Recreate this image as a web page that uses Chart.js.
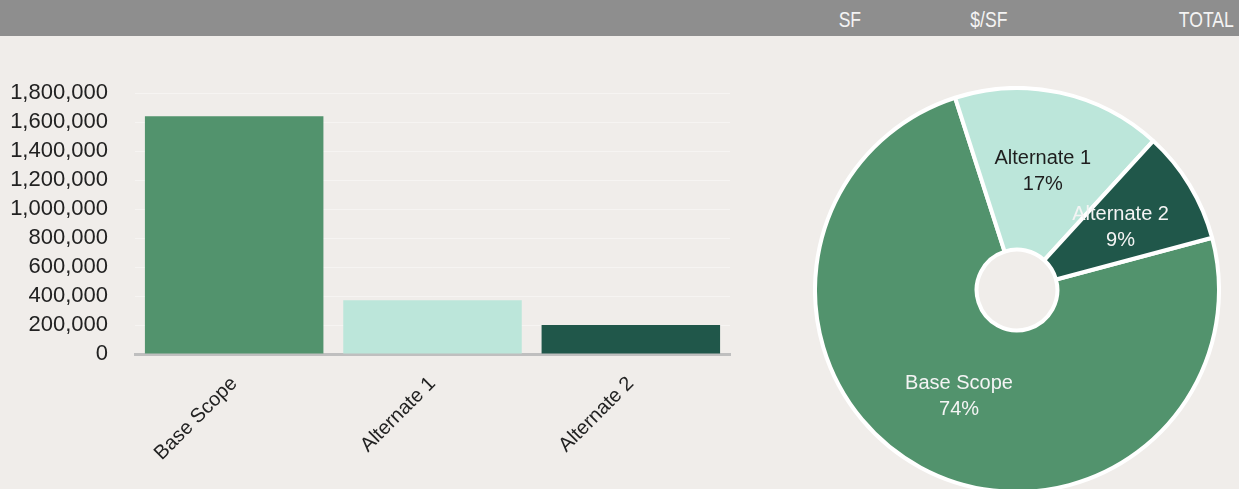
<!DOCTYPE html>
<html><head><meta charset="utf-8">
<script src="https://cdn.jsdelivr.net/npm/chart.js@4/dist/chart.umd.min.js"></script>
<style>
html,body{margin:0;padding:0;background:#f0edea;width:1239px;height:489px;overflow:hidden;font-family:"Liberation Sans",Arial,sans-serif;}
#hdr{position:absolute;left:0;top:0;width:1239px;height:36px;background:#8e8e8e;}
.h{position:absolute;top:8px;color:#f4f4f4;font-size:22px;line-height:24px;transform:scaleX(0.8);transform-origin:right center;white-space:nowrap;}
#bar{position:absolute;left:0;top:36px;}
#pie{position:absolute;left:813px;top:86px;}
</style></head>
<body>
<div id="hdr">
  <span class="h" style="right:378px">SF</span>
  <span class="h" style="right:232px">$/SF</span>
  <span class="h" style="right:5px">TOTAL</span>
</div>
<canvas id="bar" width="760" height="453"></canvas>
<canvas id="pie" width="408" height="408"></canvas>
<script>
const categories = ['Base Scope', 'Alternate 1', 'Alternate 2'];
const totals = [1640000, 370000, 200000];
const yMax = 1800000;
const yStep = 200000;

const palette = ['#52936d', '#bce6da', '#20574a'];
const pieTextColors = ['#f4f4f4', '#1e1e1e', '#f4f4f4'];
const FONT = '"Liberation Sans", Arial, sans-serif';

new Chart(document.getElementById('bar'), {
  type: 'bar',
  data: { labels: categories, datasets: [{ data: totals, backgroundColor: palette, barPercentage: 0.9, categoryPercentage: 1 }] },
  options: {
    responsive: false, animation: false, devicePixelRatio: 1,
    layout: { padding: { top: 57, right: 30, left: 0, bottom: 0 } },
    plugins: { legend: { display: false }, tooltip: { enabled: false } },
    scales: {
      x: {
        grid: { display: false },
        border: { display: true, color: '#bfbfbf', width: 3 },
        ticks: { minRotation: 45, maxRotation: 45, autoSkip: false, color: '#222', padding: 10, font: { family: FONT, size: 20 } },
        afterFit: s => { s.height = 135; }
      },
      y: {
        min: 0, max: yMax,
        grid: { color: '#f6f4f2', lineWidth: 1, drawTicks: false },
        border: { display: false },
        ticks: { stepSize: yStep, autoSkip: false, color: '#222', padding: 27, font: { family: FONT, size: 22 },
                 callback: v => Number(v).toLocaleString('en-US') },
        afterFit: s => { s.width = 135; }
      }
    }
  }
});

const total = totals.reduce((a, b) => a + b, 0);
const pieLabelPlugin = {
  id: 'pieLabels',
  afterDatasetsDraw(chart) {
    const ctx = chart.ctx;
    const meta = chart.getDatasetMeta(0);
    ctx.save();
    ctx.font = '20px ' + FONT;
    ctx.textAlign = 'center';
    ctx.textBaseline = 'middle';
    meta.data.forEach((arc, i) => {
      const p = arc.tooltipPosition();
      ctx.fillStyle = pieTextColors[i];
      ctx.fillText(categories[i], p.x, p.y - 13);
      ctx.fillText(Math.round(totals[i] / total * 100) + '%', p.x, p.y + 13);
    });
    ctx.restore();
  }
};

new Chart(document.getElementById('pie'), {
  type: 'doughnut',
  data: { labels: categories, datasets: [{ data: totals, backgroundColor: palette, borderColor: '#ffffff', borderWidth: 4 }] },
  options: {
    responsive: false, animation: false, devicePixelRatio: 1,
    rotation: 75, cutout: '20%',
    layout: { padding: 0 },
    plugins: { legend: { display: false }, tooltip: { enabled: false } }
  },
  plugins: [pieLabelPlugin]
});
</script>
</body></html>
